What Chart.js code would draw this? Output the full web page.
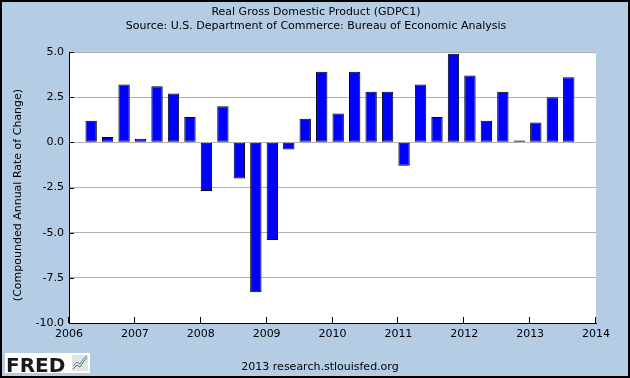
<!DOCTYPE html>
<html>
<head>
<meta charset="utf-8">
<script src="https://cdn.jsdelivr.net/npm/chart.js@4.4.1/dist/chart.umd.min.js"></script>
<style>
  html, body { margin: 0; padding: 0; background: #b4cde5; }
  canvas { display: block; }
</style>
</head>
<body>
<canvas id="gdp" width="630" height="378"></canvas>
<script>
// Real GDP, compounded annual rate of change, quarterly
const quarters = [
  '2006Q2', '2006Q3', '2006Q4',
  '2007Q1', '2007Q2', '2007Q3', '2007Q4',
  '2008Q1', '2008Q2', '2008Q3', '2008Q4',
  '2009Q1', '2009Q2', '2009Q3', '2009Q4',
  '2010Q1', '2010Q2', '2010Q3', '2010Q4',
  '2011Q1', '2011Q2', '2011Q3', '2011Q4',
  '2012Q1', '2012Q2', '2012Q3', '2012Q4',
  '2013Q1', '2013Q2', '2013Q3',
];
const growth = [
  1.2, 0.3, 3.2,
  0.2, 3.1, 2.7, 1.4,
  -2.7, 2.0, -2.0, -8.3,
  -5.4, -0.4, 1.3, 3.9,
  1.6, 3.9, 2.8, 2.8,
  -1.3, 3.2, 1.4, 4.9,
  3.7, 1.2, 2.8, 0.1,
  1.1, 2.5, 3.6,
];
const yearTicks = [2006, 2007, 2008, 2009, 2010, 2011, 2012, 2013, 2014];
const rateTicks = [5.0, 2.5, 0.0, -2.5, -5.0, -7.5, -10.0];

const BG = '#b4cde5';
const FONT = "'DejaVu Sans', sans-serif";
const BAR_FRAC = 0.69; // share of a quarter that a bar covers

// FRED draws each bar starting at the observation date
function quarterPos(q) {
  const year = Number(q.slice(0, 4));
  const n = Number(q.slice(5));
  return year + (n - 1) / 4 + (BAR_FRAC / 4) / 2;
}

const points = quarters.map((q, i) => ({ x: quarterPos(q), y: growth[i] }));

const fredDecor = {
  id: 'fredDecor',
  beforeDraw(chart) {
    const { ctx, chartArea: a, width, height } = chart;
    ctx.save();
    ctx.fillStyle = BG;
    ctx.fillRect(0, 0, width, height);
    ctx.fillStyle = '#ffffff';
    ctx.fillRect(a.left, a.top, a.right - a.left, a.bottom - a.top);
    ctx.restore();
  },
  afterDraw(chart) {
    const { ctx, chartArea: a, width, height } = chart;
    const xs = chart.scales.x, ys = chart.scales.y;
    ctx.save();

    // inward tick marks
    ctx.strokeStyle = '#000';
    ctx.lineWidth = 1;
    ctx.beginPath();
    rateTicks.forEach(v => {
      const y = Math.round(ys.getPixelForValue(v)) + 0.5;
      ctx.moveTo(a.left, y);
      ctx.lineTo(a.left + 5, y);
    });
    yearTicks.forEach(v => {
      const x = Math.round(xs.getPixelForValue(v)) - 0.5;
      ctx.moveTo(x, a.bottom);
      ctx.lineTo(x, a.bottom - 6);
    });
    ctx.stroke();

    // titles
    ctx.fillStyle = '#000';
    ctx.textAlign = 'center';
    ctx.textBaseline = 'middle';
    ctx.font = '11px ' + FONT;
    ctx.fillText('Real Gross Domestic Product (GDPC1)', 316, 12);
    ctx.fillText('Source: U.S. Department of Commerce: Bureau of Economic Analysis', 316, 26);

    // y axis title
    ctx.save();
    ctx.translate(18, 195);
    ctx.rotate(-Math.PI / 2);
    ctx.fillText('(Compounded Annual Rate of Change)', 0, 0);
    ctx.restore();

    // footer
    ctx.fillText('2013 research.stlouisfed.org', 320, 367);

    // FRED logo
    ctx.fillStyle = '#ffffff';
    ctx.fillRect(5, 353, 85, 20);
    ctx.fillStyle = '#1a1a1a';
    ctx.textAlign = 'left';
    ctx.textBaseline = 'alphabetic';
    ctx.font = 'bold 20px ' + FONT;
    ctx.fillText('FRED', 6, 372);
    ctx.fillStyle = '#e4e4e4';
    ctx.fillRect(72, 355, 16, 16);
    ctx.lineWidth = 1;
    ctx.strokeStyle = '#4a8a3a';
    ctx.beginPath();
    ctx.moveTo(73, 369); ctx.lineTo(77, 365); ctx.lineTo(80, 367); ctx.lineTo(84, 361); ctx.lineTo(87, 358);
    ctx.stroke();
    ctx.strokeStyle = '#5a7fc0';
    ctx.beginPath();
    ctx.moveTo(73, 366); ctx.lineTo(77, 362); ctx.lineTo(80, 364); ctx.lineTo(84, 358); ctx.lineTo(87, 356);
    ctx.stroke();

    // outer frame
    ctx.strokeStyle = '#000';
    ctx.lineWidth = 2;
    ctx.strokeRect(1, 1, width - 2, height - 2);
    ctx.restore();
  },
};

new Chart(document.getElementById('gdp'), {
  type: 'bar',
  data: {
    datasets: [{
      label: 'GDPC1',
      data: points,
      backgroundColor: '#0000ff',
      borderColor: '#000000',
      borderWidth: 1,
      borderSkipped: false,
      barPercentage: BAR_FRAC,
      categoryPercentage: 1,
    }],
  },
  options: {
    responsive: false,
    animation: false,
    events: [],
    layout: { padding: { top: 52, right: 34, bottom: 35, left: 0 } },
    plugins: { legend: { display: false }, tooltip: { enabled: false } },
    scales: {
      x: {
        type: 'linear',
        min: 2006,
        max: 2014,
        offset: false,
        afterBuildTicks: s => { s.ticks = yearTicks.map(v => ({ value: v })); },
        afterFit: s => { s.height = 20; },
        grid: { display: false, drawTicks: false },
        border: { display: true, color: '#000', width: 1 },
        ticks: { color: '#000', font: { family: FONT, size: 11 }, padding: 5, maxRotation: 0, autoSkip: false, callback: v => String(v) },
      },
      y: {
        min: -10,
        max: 5,
        afterBuildTicks: s => { s.ticks = rateTicks.map(v => ({ value: v })); },
        afterFit: s => { s.width = 69; },
        grid: { color: '#b0b0b0', lineWidth: 1, drawTicks: false },
        border: { display: true, color: '#000', width: 1 },
        ticks: { color: '#000', font: { family: FONT, size: 11 }, padding: 5, callback: v => v.toFixed(1) },
      },
    },
  },
  plugins: [fredDecor],
});
</script>
</body>
</html>
